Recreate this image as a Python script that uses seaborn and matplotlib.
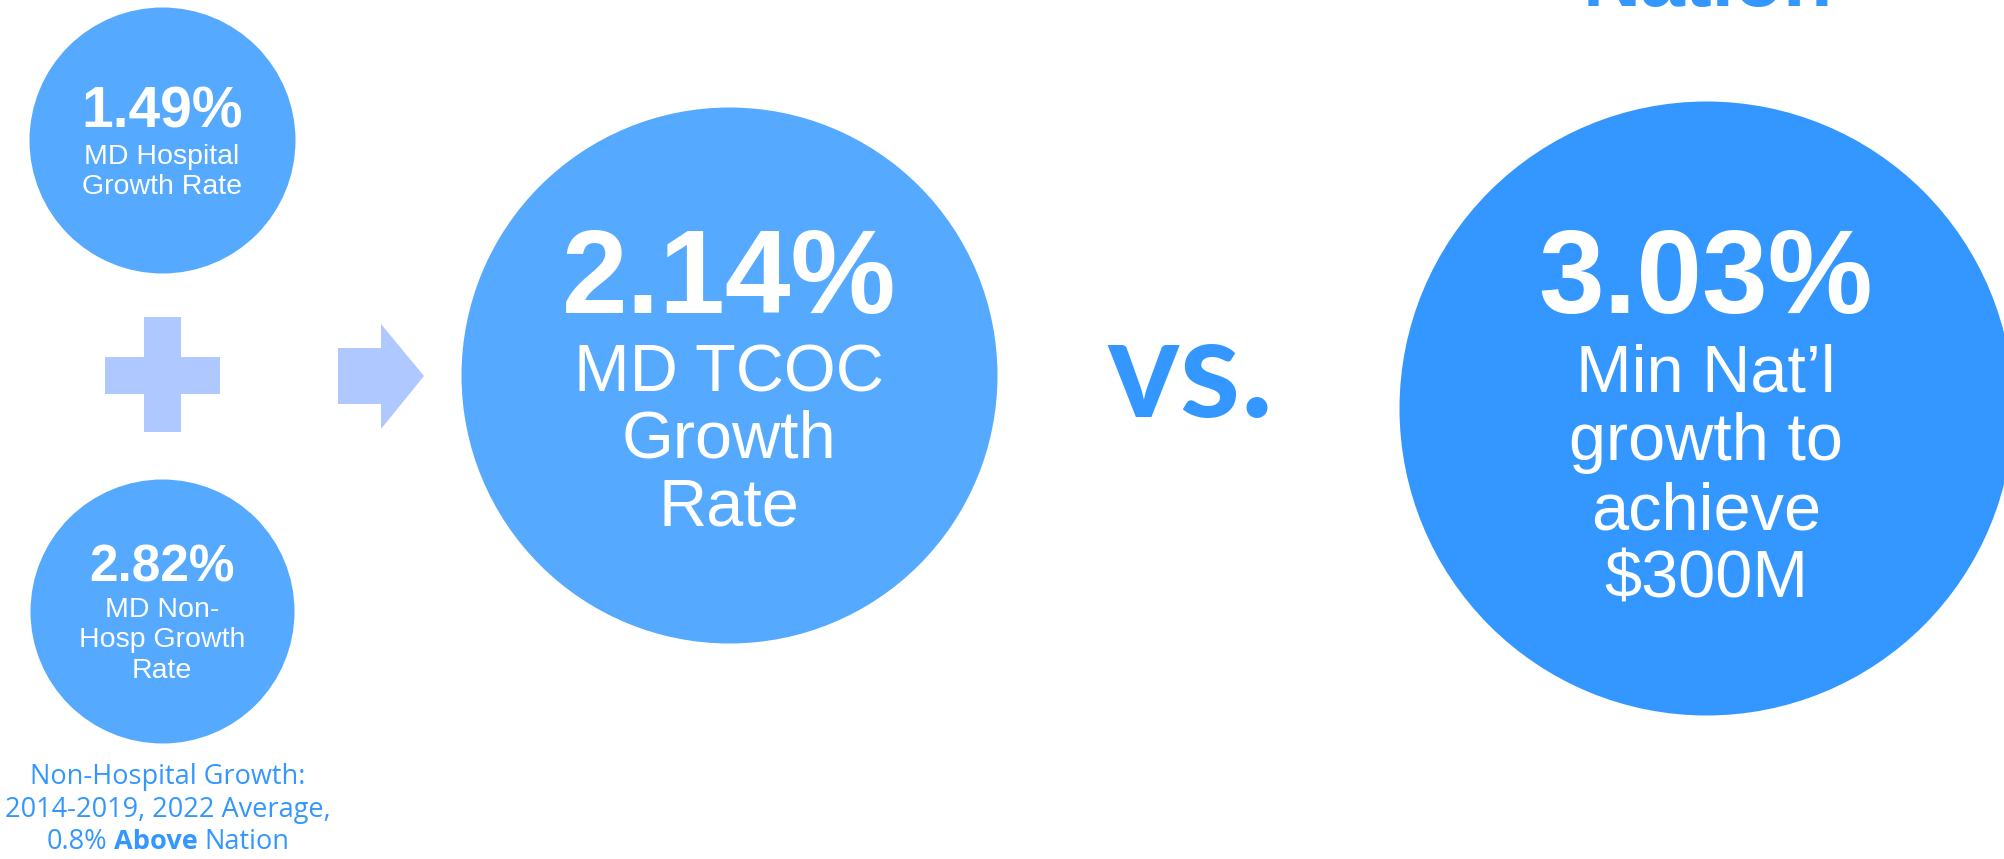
import numpy as np
import pandas as pd
import seaborn as sns
import matplotlib.pyplot as plt

# 1. Values shown in the bubbles
rates = [1.49, 2.82, 2.14, 3.03]
rate_labels = [
    ["MD Hospital", "Growth Rate"],
    ["MD Non-", "Hosp Growth", "Rate"],
    ["MD TCOC", "Growth", "Rate"],
    ["Min Nat\u2019l", "growth to", "achieve", "$300M"],
]
note_lines = ["Non-Hospital Growth:", "2014-2019, 2022 Average,"]
note_last = ["0.8%", "Above", "Nation"]
top_word = "Nation"
vs_word = "vs."

# 2. Layout (pixel space, y down)
W, H = 2004, 859
cx = [162, 162, 729, 1706]
cy = [140, 611, 375, 408]
rad = [133, 132, 268, 307]
fill = ["#55AAFF", "#55AAFF", "#55AAFF", "#3397FF"]
num_size = [41, 37, 85, 85]
num_base = [128, 581, 313, 313]
lab_size = [20.5, 20.5, 48, 48]
lab_base = [[164, 194], [617, 647, 678], [391, 458, 525], [391, 460, 529, 598]]

sns.set_theme(style="white")
plt.rcParams['font.family'] = ['Liberation Sans', 'DejaVu Sans']

fig = plt.figure(figsize=(W / 100, H / 100), dpi=100, facecolor='white')
ax = fig.add_axes([0, 0, 1, 1])
ax.set_xlim(0, W)
ax.set_ylim(H, 0)
ax.axis('off')

circles = pd.DataFrame({"x": cx, "y": cy, "r": rad, "c": fill})
for _, row in circles.iterrows():
    sns.scatterplot(x=[row.x], y=[row.y], s=(2 * row.r * 0.72) ** 2,
                    color=row.c, linewidth=0, ax=ax, legend=False)

# 3. Numbers and captions inside the circles
for i, val in enumerate(rates):
    ax.text(cx[i], num_base[i], f"{val:.2f}%", color='white', fontsize=num_size[i],
            fontweight='bold', ha='center', va='baseline')
    for line, yb in zip(rate_labels[i], lab_base[i]):
        ax.text(cx[i], yb, line, color='white', fontsize=lab_size[i],
                ha='center', va='baseline')

# 4. Plus sign and arrow
light = "#AFC8FF"
ax.fill([144, 181, 181, 220, 220, 181, 181, 144, 144, 105, 105, 144],
        [317, 317, 357, 357, 394, 394, 432, 432, 394, 394, 357, 357],
        color=light, lw=0)
ax.fill([338, 381, 381, 424, 381, 381, 338],
        [348, 348, 324, 376, 429, 404, 404], color=light, lw=0)

# 5. "vs." and the cut-off heading
blue = "#3397FF"
ax.text(1190, 417, vs_word, color=blue, fontsize=100, fontweight='bold',
        family='Lato', ha='center', va='baseline')
ax.text(1708, 6, top_word, color=blue, fontsize=58, fontweight='bold',
        ha='center', va='baseline')

# 6. Note under the lower circle
for line, yb in zip(note_lines, [784, 817]):
    ax.text(168, yb, line, color=blue, fontsize=19.5, family='Open Sans',
            ha='center', va='baseline')

fig.canvas.draw()
rend = fig.canvas.get_renderer()
parts = []
for word, wt in zip(note_last, ['normal', 'bold', 'normal']):
    t = ax.text(0, 849, word, color=blue, fontsize=19.5, family='Open Sans',
                fontweight=wt, ha='left', va='baseline')
    parts.append(t)
widths = [t.get_window_extent(rend).width for t in parts]
gap = 7
total = sum(widths) + gap * (len(parts) - 1)
x0 = 168 - total / 2
for t, w in zip(parts, widths):
    t.set_x(x0)
    x0 += w + gap

plt.savefig('out.png', dpi=100, facecolor='white')
